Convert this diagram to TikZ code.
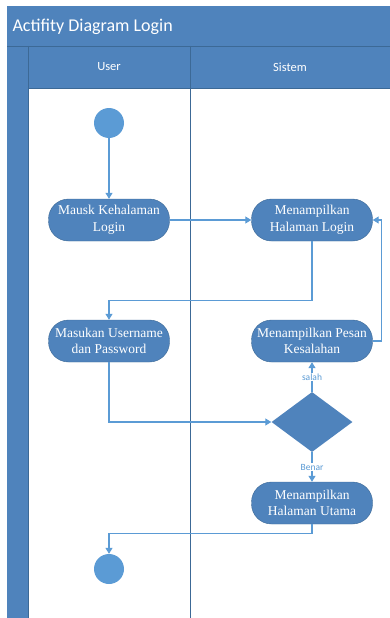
\documentclass[tikz,border=0pt]{standalone}
\usepackage{fontspec}
\setmainfont{Liberation Serif}
\newfontfamily\lanefont{Carlito}
\usetikzlibrary{positioning}
\usetikzlibrary{shapes.geometric}
\usetikzlibrary{arrows.meta}

\definecolor{laneblue}{RGB}{79,131,188}
\definecolor{laneedge}{RGB}{60,105,150}
\definecolor{flowblue}{RGB}{91,155,213}

\begin{document}
\begin{tikzpicture}[x=1pt, y=-1pt,
                    actnode/.style={rectangle, rounded corners=20pt, draw=laneedge, fill=laneblue, text=white, align=center, minimum width=121pt, minimum height=42pt, inner sep=2pt, font=\fontsize{13.5}{16.5}\selectfont},
                    decnode/.style={diamond, fill=laneblue, minimum width=81pt, minimum height=60pt, inner sep=0pt},
                    dotnode/.style={circle, fill=flowblue, minimum size=30pt, inner sep=0pt},
                    flow/.style={draw=flowblue, line width=1.1pt, -{Triangle[width=7pt,length=6pt]}},
                    guard/.style={fill=white, text=flowblue, inner sep=1pt, font=\lanefont\fontsize{9.5}{10}\selectfont},
                    lanetext/.style={text=white, font=\lanefont\fontsize{12.5}{14}\selectfont},
                   ]
  \useasboundingbox (0,0) rectangle (390,618);

  %Swimlanes
  \fill[laneblue] (7,6) rectangle (390,46);
  \fill[laneblue] (7,46) rectangle (28,618);
  \fill[laneblue] (28,46) rectangle (390,88);
  \draw[laneedge, line width=0.8pt] (7,46) -- (390,46);
  \draw[laneedge, line width=0.8pt] (28,88) -- (390,88);
  \draw[laneedge, line width=0.8pt] (28,46) -- (28,618);
  \draw[laneedge, line width=1pt] (190,46) -- (190,618);
  \node[text=white, anchor=west, font=\lanefont\fontsize{18}{20}\selectfont] (title) at (9,27) {Actifity Diagram Login};
  \node[lanetext] (user)   at (109,67) {User};
  \node[lanetext] (sistem) at (290,67) {Sistem};

  %Nodes
  \node[dotnode]  (start)    at (109,123) {};
  \node[actnode]  (login)    at (109,220) {Mausk Kehalaman\\Login};
  \node[actnode]  (hallogin) at (312,220) {Menampilkan\\Halaman Login};
  \node[actnode]  (masukan)  at (109,341) {Masukan Username\\dan Password};
  \node[actnode]  (pesan)    at (312,341) {Menampilkan Pesan\\Kesalahan};
  \node[decnode]  (cek)      at (312,422) {};
  \node[actnode]  (utama)    at (312,503) {Menampilkan\\Halaman Utama};
  \node[dotnode]  (finish)   at (109,569) {};

  %Lines
  \draw[flow] (start) -- (login);
  \draw[flow] (login) -- (hallogin);
  \draw[flow] (hallogin.south) -- ++(0,59) -| (masukan.north);
  \draw[flow] (masukan.south) |- (cek.west);
  \draw[flow] (cek.north) -- node[guard] (salah) {salah} (pesan.south);
  \draw[flow] (pesan.east) -- ++(9,0) |- (hallogin.east);
  \draw[flow] (cek.south) -- node[guard] (benar) {Benar} (utama.north);
  \draw[flow] (utama.south) -- ++(0,9) -| (finish.north);
\end{tikzpicture}
\end{document}
